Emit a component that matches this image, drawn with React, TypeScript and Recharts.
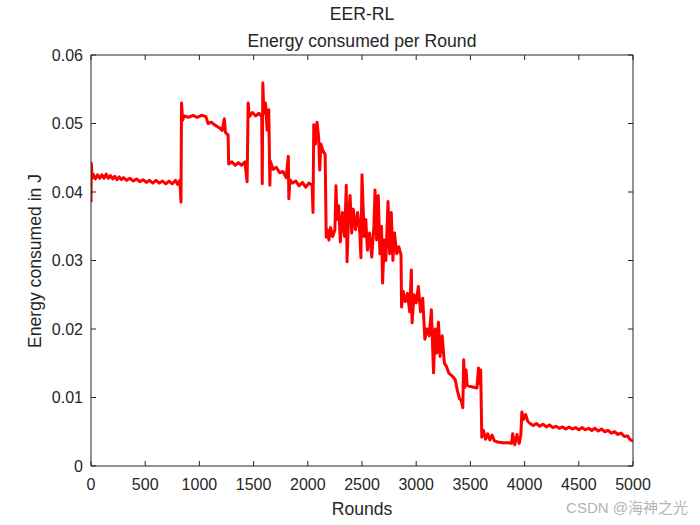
import React from "react";
import { LineChart, Line, XAxis, YAxis } from "recharts";

const rounds = [
  0, 3, 10, 20, 40, 60, 80, 100, 120, 140, 160, 180, 200, 220, 240, 260, 280, 300, 330, 360,
  390, 420, 450, 480, 510, 540, 570, 600, 630, 660, 690, 720, 750, 780, 800, 820, 830, 835, 845, 860,
  900, 940, 980, 1020, 1060, 1080, 1110, 1140, 1160, 1190, 1210, 1230, 1240, 1265, 1270, 1300, 1330, 1360, 1390, 1420,
  1440, 1450, 1460, 1490, 1520, 1550, 1575, 1580, 1585, 1595, 1610, 1625, 1640, 1650, 1655, 1680, 1710, 1740, 1770, 1800,
  1820, 1825, 1835, 1860, 1890, 1920, 1950, 1980, 2010, 2040, 2048, 2055, 2070, 2085, 2100, 2110, 2120, 2140, 2160, 2170,
  2180, 2195, 2210, 2230, 2250, 2260, 2270, 2285, 2300, 2320, 2340, 2355, 2362, 2375, 2390, 2405, 2420, 2440, 2460, 2480,
  2490, 2500, 2510, 2520, 2535, 2550, 2570, 2590, 2610, 2620, 2635, 2650, 2665, 2680, 2690, 2705, 2720, 2740, 2755, 2770,
  2785, 2800, 2820, 2840, 2860, 2865, 2880, 2900, 2920, 2940, 2955, 2962, 2980, 3000, 3020, 3040, 3060, 3080, 3100, 3120,
  3140, 3160, 3175, 3190, 3205, 3220, 3240, 3260, 3280, 3300, 3320, 3340, 3360, 3380, 3400, 3415, 3430, 3438, 3450, 3460,
  3470, 3500, 3530, 3560, 3575, 3585, 3595, 3605, 3620, 3640, 3660, 3680, 3700, 3720, 3750, 3800, 3850, 3880, 3890, 3910,
  3930, 3950, 3965, 3975, 3990, 4010, 4030, 4050, 4080, 4110, 4140, 4170, 4200, 4230, 4260, 4290, 4320, 4350, 4380, 4410,
  4440, 4470, 4500, 4530, 4560, 4590, 4620, 4650, 4680, 4710, 4740, 4770, 4800, 4830, 4860, 4890, 4920, 4950, 4970, 5000,
];

const energy = [
  0.0385, 0.0442, 0.042, 0.0426, 0.0419, 0.0425, 0.042, 0.0425, 0.042, 0.0426, 0.042, 0.0424, 0.0419, 0.0423, 0.0418, 0.0422, 0.0418, 0.0421, 0.0417, 0.042,
  0.0416, 0.0419, 0.0415, 0.0418, 0.0414, 0.0417, 0.0413, 0.0417, 0.0413, 0.0416, 0.0412, 0.0416, 0.0412, 0.0417, 0.0411, 0.0417, 0.0385, 0.053, 0.0505, 0.0511,
  0.0509, 0.0512, 0.0509, 0.0512, 0.051, 0.05, 0.0502, 0.0498, 0.0496, 0.0493, 0.049, 0.0507, 0.0487, 0.0483, 0.0441, 0.0444, 0.0439, 0.0443, 0.0439, 0.0444,
  0.0415, 0.053, 0.051, 0.0516, 0.0511, 0.0515, 0.051, 0.0412, 0.0559, 0.0515, 0.053, 0.049, 0.052, 0.041, 0.0445, 0.0433, 0.0436, 0.0428, 0.043, 0.0421,
  0.0452, 0.039, 0.0418, 0.0413, 0.0416, 0.0409, 0.0414, 0.0407, 0.0413, 0.041, 0.037, 0.0498, 0.047, 0.0502, 0.048, 0.0432, 0.047, 0.046, 0.0455, 0.0334,
  0.0345, 0.033, 0.0348, 0.0335, 0.0345, 0.0409, 0.036, 0.038, 0.0327, 0.037, 0.0335, 0.041, 0.0298, 0.036, 0.0395, 0.034, 0.0375, 0.0345, 0.037, 0.034,
  0.0304, 0.0425, 0.038, 0.0335, 0.036, 0.0315, 0.034, 0.0305, 0.035, 0.0403, 0.033, 0.0395, 0.031, 0.035, 0.0267, 0.033, 0.03, 0.0386, 0.031, 0.037,
  0.03, 0.034, 0.031, 0.032, 0.0308, 0.0232, 0.0255, 0.024, 0.0252, 0.0225, 0.0286, 0.0209, 0.025, 0.0238, 0.0262, 0.0225, 0.0245, 0.0185, 0.02, 0.019,
  0.0228, 0.0136, 0.02, 0.0165, 0.021, 0.016, 0.019, 0.015, 0.0145, 0.0136, 0.0133, 0.013, 0.0126, 0.011, 0.0098, 0.0096, 0.0085, 0.0155, 0.0115, 0.014,
  0.0118, 0.0116, 0.0115, 0.0114, 0.0143, 0.012, 0.014, 0.0042, 0.0052, 0.0039, 0.0047, 0.0038, 0.0045, 0.0037, 0.0035, 0.0034, 0.0034, 0.0033, 0.0047, 0.0031,
  0.0046, 0.0033, 0.0045, 0.0079, 0.0068, 0.0075, 0.0065, 0.0062, 0.0059, 0.0062, 0.0058, 0.0061, 0.0057, 0.006, 0.0056, 0.0058, 0.0055, 0.0057, 0.0054, 0.0057,
  0.0054, 0.0056, 0.0053, 0.0056, 0.0053, 0.0055, 0.0052, 0.0055, 0.0051, 0.0054, 0.005, 0.0052, 0.0048, 0.005, 0.0046, 0.0048, 0.0043, 0.0044, 0.0039, 0.0036,
];

const xTicks = [0, 500, 1000, 1500, 2000, 2500, 3000, 3500, 4000, 4500, 5000];
const yTicks = [0, 0.01, 0.02, 0.03, 0.04, 0.05, 0.06];

const data = rounds.map((r, i) => ({ round: r, energy: energy[i] }));

const AXIS = "#262626";
const FONT = "'Liberation Sans', Arial, Helvetica, sans-serif";
const TICK_LEN = 5;

const fmtY = (v: number) => (v === 0 ? "0" : v.toFixed(2));

const BottomTick = (p: any) => (
  <g>
    <line x1={p.x} y1={p.y} x2={p.x} y2={p.y - TICK_LEN} stroke={AXIS} strokeWidth={1} />
    <text x={p.x} y={p.y + 24} textAnchor="middle" fill={AXIS} fontSize={16} fontFamily={FONT}>
      {p.payload.value}
    </text>
  </g>
);
const TopTick = (p: any) => (
  <line x1={p.x} y1={p.y} x2={p.x} y2={p.y + TICK_LEN} stroke={AXIS} strokeWidth={1} />
);
const LeftTick = (p: any) => (
  <g>
    <line x1={p.x} y1={p.y} x2={p.x + TICK_LEN} y2={p.y} stroke={AXIS} strokeWidth={1} />
    <text x={p.x - 8} y={p.y + 5.5} textAnchor="end" fill={AXIS} fontSize={16} fontFamily={FONT}>
      {fmtY(p.payload.value)}
    </text>
  </g>
);
const RightTick = (p: any) => (
  <line x1={p.x} y1={p.y} x2={p.x - TICK_LEN} y2={p.y} stroke={AXIS} strokeWidth={1} />
);

export default function App() {
  return (
    <div style={{ position: "absolute", left: 0, top: 0, width: 700, height: 525, background: "#fff" }}>
      <LineChart
        width={700}
        height={525}
        data={data}
        margin={{ top: 35, right: 47, bottom: 29, left: 41 }}
      >
        <XAxis
          dataKey="round"
          type="number"
          domain={[0, 5000]}
          ticks={xTicks}
          interval={0}
          height={30}
          tickSize={0}
          tickMargin={0}
          tickLine={false}
          tick={BottomTick}
          axisLine={{ stroke: AXIS, strokeWidth: 1 }}
          allowDataOverflow
        />
        <XAxis
          xAxisId="top"
          orientation="top"
          dataKey="round"
          type="number"
          domain={[0, 5000]}
          ticks={xTicks}
          interval={0}
          height={20}
          tickSize={0}
          tickMargin={0}
          tickLine={false}
          tick={TopTick}
          axisLine={{ stroke: AXIS, strokeWidth: 1 }}
          allowDataOverflow
        />
        <YAxis
          type="number"
          domain={[0, 0.06]}
          ticks={yTicks}
          interval={0}
          width={50}
          tickSize={0}
          tickMargin={0}
          tickLine={false}
          tick={LeftTick}
          axisLine={{ stroke: AXIS, strokeWidth: 1 }}
          allowDataOverflow
        />
        <YAxis
          yAxisId="right"
          orientation="right"
          type="number"
          domain={[0, 0.06]}
          ticks={yTicks}
          interval={0}
          width={20}
          tickSize={0}
          tickMargin={0}
          tickLine={false}
          tick={RightTick}
          axisLine={{ stroke: AXIS, strokeWidth: 1 }}
          allowDataOverflow
        />
        <Line
          type="linear"
          dataKey="energy"
          stroke="#ff0000"
          strokeWidth={3}
          dot={false}
          isAnimationActive={false}
          strokeLinejoin="round"
        />
      </LineChart>
      <svg
        width={700}
        height={525}
        style={{ position: "absolute", left: 0, top: 0, pointerEvents: "none" }}
      >
        <text x={362} y={20} textAnchor="middle" fill={AXIS} fontSize={17.6} fontFamily={FONT}>
          EER-RL
        </text>
        <text x={362} y={47} textAnchor="middle" fill={AXIS} fontSize={17.6} fontFamily={FONT}>
          Energy consumed per Round
        </text>
        <text x={362} y={515} textAnchor="middle" fill={AXIS} fontSize={17.6} fontFamily={FONT}>
          Rounds
        </text>
        <text
          x={0}
          y={0}
          transform="translate(41,261) rotate(-90)"
          textAnchor="middle"
          fill={AXIS}
          fontSize={17.6}
          fontFamily={FONT}
        >
          Energy consumed in J
        </text>
        <text
          x={688}
          y={513}
          textAnchor="end"
          fill="#b4b4b4"
          fontSize={15}
          fontFamily="'Liberation Sans', 'Noto Sans CJK SC', sans-serif"
        >
          CSDN @海神之光
        </text>
      </svg>
    </div>
  );
}
